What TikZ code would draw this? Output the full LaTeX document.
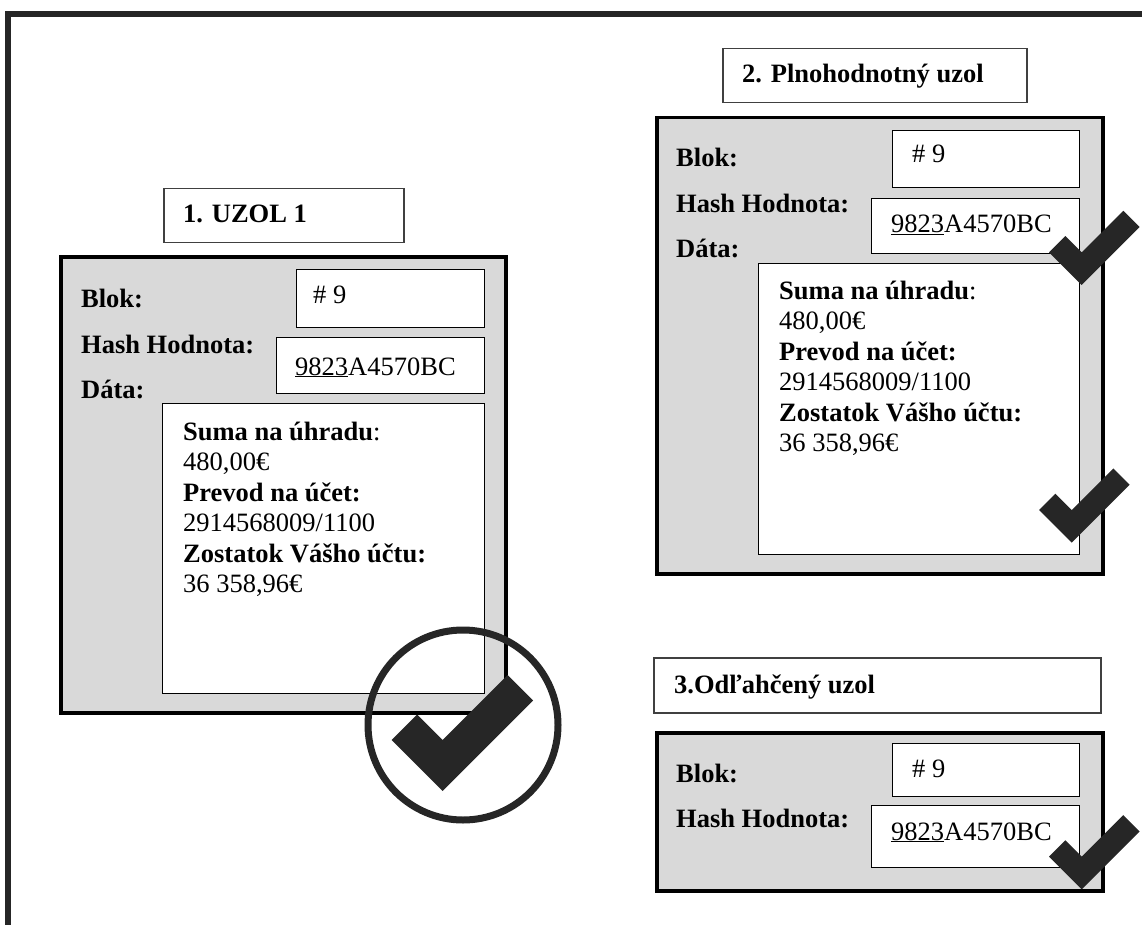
\documentclass[tikz,border=0pt]{standalone}
\usepackage{fontspec}
\setmainfont{Liberation Serif}
\definecolor{ink}{HTML}{262626}
\definecolor{panel}{HTML}{D9D9D9}
\definecolor{titleline}{HTML}{404040}
\newcommand\boxtextsize{\fontsize{26.5}{30.5}\selectfont}
\tikzset{
  titlebox/.style={draw=titleline, line width=1.5pt, fill=white, inner sep=0pt, anchor=north west},
  nodepanel/.style={draw=black, line width=3.5pt, fill=panel, inner sep=0pt, anchor=north west},
  field/.style={draw=black, line width=1.2pt, fill=white, inner sep=0pt, anchor=north west},
  lbl/.style={anchor=base west, inner sep=0pt, font=\boxtextsize\bfseries},
  val/.style={anchor=base west, inner sep=0pt, font=\boxtextsize},
  checkmark/.pic={
    \fill[ink] (-51,-51) -- (-25.5,-76.5) -- (0,-51) -- (65,-116) -- (90.5,-90.5) -- (0,0) -- cycle;
  }
}
\begin{document}
\begin{tikzpicture}[x=1pt, y=-1pt]
\useasboundingbox (0,0) rectangle (1142,925);
% outer frame (top and left edges)
\draw[ink, line width=6pt] (8,930) -- (8,14) -- (1150,14);

% ---------- 1. UZOL 1 ----------
\node[titlebox, minimum width=240pt, minimum height=54pt] (t1) at (163,188) {};
\node[lbl] (t1txt) at (183,223) {1. UZOL 1};
\node[nodepanel, minimum width=445pt, minimum height=456pt] (p1) at (59,255) {};
\node[field, minimum width=188pt, minimum height=58pt] (b1) at (296,269) {};
\node[field, minimum width=208pt, minimum height=56pt] (h1) at (276,337) {};
\node[field, minimum width=322pt, minimum height=290pt] (d1) at (162,403) {};
\node[lbl] (b1l) at (81,307) {Blok:};
\node[lbl] (h1l) at (81,353) {Hash Hodnota:};
\node[lbl] (d1l) at (81,398) {Dáta:};
\node[val] (b1v) at (313,303) {\# 9};
\node[val] (h1v) at (295,375) {\underline{9823}A4570BC};
\node[val] (d1a) at (183,440) {\textbf{Suma na úhradu}:};
\node[val] (d1b) at (183,470.5) {480,00€};
\node[val] (d1c) at (183,501) {\textbf{Prevod na účet:}};
\node[val] (d1d) at (183,531.5) {2914568009/1100};
\node[val] (d1e) at (183,562) {\textbf{Zostatok Vášho účtu:}};
\node[val] (d1f) at (183,592.5) {36 358,96€};

% ---------- 2. Plnohodnotný uzol ----------
\node[titlebox, minimum width=304pt, minimum height=54pt] (t2) at (722,48) {};
\node[lbl] (t2txt) at (742,83) {2. Plnohodnotný uzol};
\node[nodepanel, minimum width=446pt, minimum height=456pt] (p2) at (655,116) {};
\node[field, minimum width=187pt, minimum height=57pt] (b2) at (892,130) {};
\node[field, minimum width=208pt, minimum height=55pt] (h2) at (871,198) {};
\node[field, minimum width=321pt, minimum height=291pt] (d2) at (758,263) {};
\node[lbl] (b2l) at (676,167) {Blok:};
\node[lbl] (h2l) at (676,213) {Hash Hodnota:};
\node[lbl] (d2l) at (676,258) {Dáta:};
\node[val] (b2v) at (912,163) {\# 9};
\node[val] (h2v) at (891,233) {\underline{9823}A4570BC};
\node[val] (d2a) at (779,299) {\textbf{Suma na úhradu}:};
\node[val] (d2b) at (779,329.5) {480,00€};
\node[val] (d2c) at (779,360) {\textbf{Prevod na účet:}};
\node[val] (d2d) at (779,390.5) {2914568009/1100};
\node[val] (d2e) at (779,421) {\textbf{Zostatok Vášho účtu:}};
\node[val] (d2f) at (779,451.5) {36 358,96€};

% ---------- 3. Odľahčený uzol ----------
\node[titlebox, minimum width=447pt, minimum height=55pt] (t3) at (653,657) {};
\node[lbl] (t3txt) at (674,693) {3.Odľahčený uzol};
\node[nodepanel, minimum width=446pt, minimum height=158pt] (p3) at (655,731) {};
\node[field, minimum width=187pt, minimum height=53pt] (b3) at (892,743) {};
\node[field, minimum width=208pt, minimum height=62pt] (h3) at (871,805) {};
\node[lbl] (b3l) at (676,782) {Blok:};
\node[lbl] (h3l) at (676,827) {Hash Hodnota:};
\node[val] (b3v) at (912,777) {\# 9};
\node[val] (h3v) at (891,840) {\underline{9823}A4570BC};

% ---------- verification marks ----------
\node[draw=ink, line width=7pt, circle, minimum size=190pt, inner sep=0pt] (ring) at (463,725) {};
\pic at (442.7,791) {checkmark};
\pic[scale=0.64] at (1081.7,285) {checkmark};
\pic[scale=0.64] at (1071.7,542.7) {checkmark};
\pic[scale=0.64] at (1081.7,889.3) {checkmark};
\end{tikzpicture}
\end{document}
